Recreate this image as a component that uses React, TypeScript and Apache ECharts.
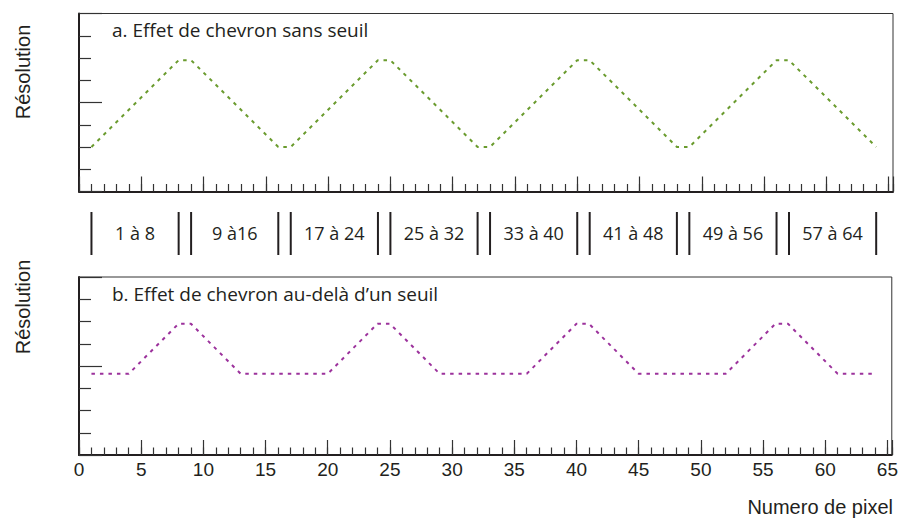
import React, { useEffect, useRef } from "react";
import * as echarts from "echarts";

// Panel a: chevron effect without threshold (vertices of the pixel profile)
const pixelsA = [1, 8, 9, 16, 17, 24, 25, 32, 33, 40, 41, 48, 49, 56, 57, 64];
const resolutionA = [2, 5.9, 5.9, 2, 2, 5.9, 5.9, 2, 2, 5.9, 5.9, 2, 2, 5.9, 5.9, 2];

// Panel b: chevron effect beyond a threshold
const pixelsB = [1, 4, 8, 9, 13, 20, 24, 25, 29, 36, 40, 41, 45, 52, 56, 57, 61, 64];
const resolutionB = [3.65, 3.65, 5.9, 5.9, 3.65, 3.65, 5.9, 5.9, 3.65, 3.65, 5.9, 5.9, 3.65, 3.65, 5.9, 5.9, 3.65, 3.65];

// Pixel groups
const groupStarts = [1, 9, 17, 25, 33, 41, 49, 57];
const groupEnds = [8, 16, 24, 32, 40, 48, 56, 64];
const groupLabels = ["1 à 8", "9 à16", "17 à 24", "25 à 32", "33 à 40", "41 à 48", "49 à 56", "57 à 64"];

const xMin = 0;
const xMax = 65.35;
const yMin = 0;
const yMax = 8;

const INK = "#231f20";
const HUMANIST = "'Open Sans', 'Noto Sans', sans-serif";
const HELV = "'Liberation Sans', Arial, sans-serif";

export default function App() {
  const ref = useRef<HTMLDivElement>(null);

  useEffect(() => {
    if (!ref.current) return;
    const chart = echarts.init(ref.current, null, { renderer: "svg" });

    const grids = [
      { left: 79, top: 13.5, width: 814, height: 178 },
      { left: 79, top: 277, width: 814, height: 178 },
      { left: 79, top: 212, width: 814, height: 43 },
    ].map((g, i) => ({
      ...g,
      show: i < 2,
      borderColor: "#333",
      borderWidth: 1,
      containLabel: false,
    }));

    const majorX = (gridIndex: number, labels: boolean) => ({
      type: "value",
      gridIndex,
      min: xMin,
      max: xMax,
      interval: 5,
      position: "bottom",
      axisLine: { show: true, onZero: false, lineStyle: { color: INK, width: 2 } },
      axisTick: { show: true, inside: true, length: 15, lineStyle: { color: "#333", width: 1.2 } },
      axisLabel: {
        show: labels,
        color: INK,
        fontFamily: HELV,
        fontSize: 19,
        margin: 5,
        formatter: (v: number) => (Math.abs(v % 5) < 1e-9 ? String(v) : ""),
      },
      splitLine: { show: false },
    });
    const minorX = (gridIndex: number) => ({
      type: "value",
      gridIndex,
      min: xMin,
      max: xMax,
      interval: 1,
      position: "bottom",
      axisLine: { show: false },
      axisTick: { show: true, inside: true, length: 7.5, lineStyle: { color: "#333", width: 1.2 } },
      axisLabel: { show: false },
      splitLine: { show: false },
    });
    const yAx = (gridIndex: number) => ({
      type: "value",
      gridIndex,
      min: yMin,
      max: yMax,
      interval: 4,
      axisLine: { show: true, onZero: false, lineStyle: { color: INK, width: 2 } },
      axisTick: { show: true, inside: true, length: 23, lineStyle: { color: "#333", width: 1.2 } },
      minorTick: { show: true, splitNumber: 4, length: 12, lineStyle: { color: "#333", width: 1.2 } },
      axisLabel: { show: false },
      splitLine: { show: false },
      minorSplitLine: { show: false },
    });

    const vText = (y: number) => ({
      type: "text",
      x: 23,
      y,
      rotation: Math.PI / 2,
      style: {
        text: "Résolution",
        fontFamily: HELV,
        fontSize: 20,
        fill: INK,
        align: "center",
        verticalAlign: "middle",
      },
    });

    const option: any = {
      animation: false,
      backgroundColor: "#ffffff",
      grid: grids,
      title: [
        {
          text: "a. Effet de chevron sans seuil",
          left: 112,
          top: 20,
          padding: 0,
          textStyle: { fontFamily: HUMANIST, fontSize: 19, fontWeight: "normal", color: INK },
        },
        {
          text: "b. Effet de chevron au-delà d\u2019un seuil",
          left: 112,
          top: 284,
          padding: 0,
          textStyle: { fontFamily: HUMANIST, fontSize: 19, fontWeight: "normal", color: INK },
        },
      ],
      xAxis: [
        majorX(0, false),
        minorX(0),
        majorX(1, true),
        minorX(1),
        { type: "value", gridIndex: 2, min: xMin, max: xMax, show: false },
      ],
      yAxis: [
        yAx(0),
        yAx(1),
        { type: "value", gridIndex: 2, min: 0, max: 1, show: false },
      ],
      graphic: [
        vText(72),
        vText(307),
        {
          type: "text",
          x: 893,
          y: 507,
          style: {
            text: "Numero de pixel",
            fontFamily: HELV,
            fontSize: 20,
            fill: INK,
            align: "right",
            verticalAlign: "middle",
          },
        },
      ],
      series: [
        {
          type: "line",
          xAxisIndex: 0,
          yAxisIndex: 0,
          data: pixelsA.map((p, i) => [p, resolutionA[i]]),
          showSymbol: false,
          symbol: "none",
          lineStyle: { color: "#6a9b2e", width: 2, type: [3.5, 5] },
        },
        {
          type: "line",
          xAxisIndex: 2,
          yAxisIndex: 1,
          data: pixelsB.map((p, i) => [p, resolutionB[i]]),
          showSymbol: false,
          symbol: "none",
          lineStyle: { color: "#9c329c", width: 2, type: [3.5, 5] },
        },
        {
          type: "custom",
          xAxisIndex: 4,
          yAxisIndex: 2,
          data: groupStarts.map((s, i) => [s, groupEnds[i], groupLabels[i]]),
          renderItem: (params: any, api: any) => {
            const s = api.value(0);
            const e = api.value(1);
            const label = groupLabels[params.dataIndex];
            const p0 = api.coord([s, 0]);
            const p1 = api.coord([s, 1]);
            const q0 = api.coord([e, 0]);
            const q1 = api.coord([e, 1]);
            const mid = api.coord([(s + e) / 2, 0.5]);
            const ls = { stroke: INK, lineWidth: 2 };
            return {
              type: "group",
              children: [
                { type: "line", shape: { x1: p0[0], y1: p0[1], x2: p1[0], y2: p1[1] }, style: ls },
                { type: "line", shape: { x1: q0[0], y1: q0[1], x2: q1[0], y2: q1[1] }, style: ls },
                {
                  type: "text",
                  x: mid[0],
                  y: mid[1] - 1,
                  style: {
                    text: label,
                    fontFamily: HUMANIST,
                    fontSize: 18,
                    fill: INK,
                    align: "center",
                    verticalAlign: "middle",
                  },
                },
              ],
            };
          },
        },
      ],
    };

    chart.setOption(option);
    return () => chart.dispose();
  }, []);

  return (
    <div
      ref={ref}
      style={{ position: "fixed", left: 0, top: 0, width: 901, height: 521 }}
    />
  );
}
